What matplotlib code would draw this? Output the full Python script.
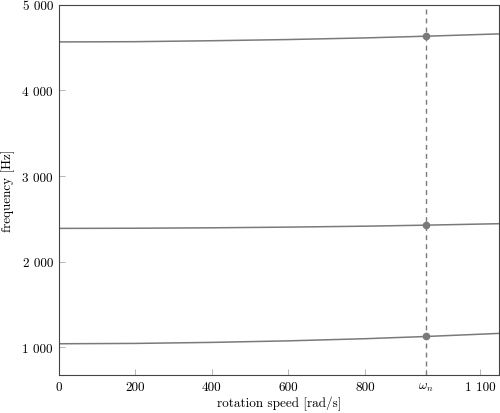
import numpy as np
import matplotlib.pyplot as plt
from matplotlib.ticker import FuncFormatter

# data
speed = np.array([0, 200, 400, 600, 800, 960, 1150])
mode1 = np.array([1039, 1043, 1055, 1073, 1098, 1124, 1160])
mode2 = np.array([2387, 2389, 2394, 2402, 2413, 2425, 2442])
mode3 = np.array([4566, 4569, 4580, 4594, 4613, 4633, 4660])
omega_n = 960
xtick_vals = [0, 200, 400, 600, 800, omega_n, 1100]
xtick_labels = ['0', '200', '400', '600', '800', r'$\omega_n$', '1 100']
ytick_vals = [1000, 2000, 3000, 4000, 5000]

plt.rcParams['font.family'] = 'serif'
plt.rcParams['font.serif'] = ['cmr10']
plt.rcParams['mathtext.fontset'] = 'cm'
plt.rcParams['axes.formatter.use_mathtext'] = True

fig = plt.figure(figsize=(5, 4.14), dpi=100)
ax = fig.add_axes([0.117, 0.092, 0.881, 0.894])

grey = '#7a7a7a'
for m in (mode1, mode2, mode3):
    ax.plot(speed, m, color=grey, lw=1.1)
    ax.plot(omega_n, np.interp(omega_n, speed, m), 'o', color=grey, ms=4.5)

ax.axvline(omega_n, color=grey, lw=1.0, ls=(0, (3.5, 3)))

ax.set_xlim(0, 1150)
ax.set_ylim(675, 5000)
ax.set_xticks(xtick_vals)
ax.set_xticklabels(xtick_labels)
ax.set_yticks(ytick_vals)
ax.yaxis.set_major_formatter(FuncFormatter(lambda v, p: '{:,}'.format(int(v)).replace(',', ' ')))
ax.tick_params(direction='in', length=4, width=0.5, color='#999999', labelsize=9.5, pad=4)

for s in ax.spines.values():
    s.set_linewidth(0.8)
    s.set_color('#444444')

ax.set_xlabel('rotation speed [rad/s]', fontsize=9.5, labelpad=2)
ax.set_ylabel('frequency [Hz]', fontsize=9.5, labelpad=5)

fig.savefig('out.png', dpi=100)
